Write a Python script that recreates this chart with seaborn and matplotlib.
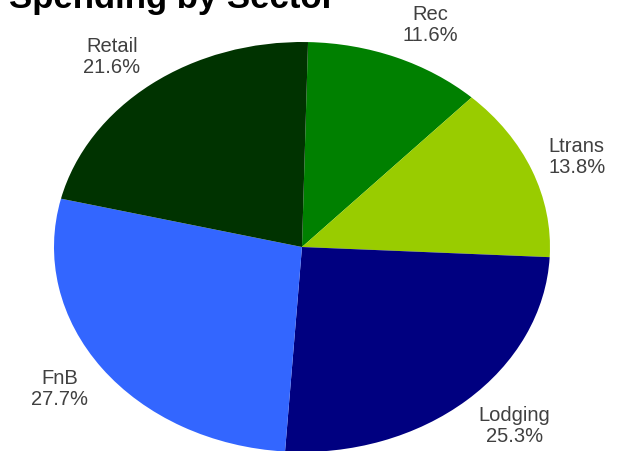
import numpy as np
import seaborn as sns
import matplotlib.pyplot as plt

# data
sectors = ['Rec', 'Ltrans', 'Lodging', 'FnB', 'Retail']
shares = [11.6, 13.8, 25.3, 27.7, 21.6]
colors = ['#008000', '#99cc00', '#000080', '#3366ff', '#003300']
title = 'Spending by Sector'

sns.set_theme(style='white')
plt.rcParams['font.family'] = ['Liberation Sans', 'DejaVu Sans']

fig = plt.figure(figsize=(6.24, 4.51), dpi=100)
# pie is stretched into an ellipse, like the original
ax = fig.add_axes([-0.0327, -0.1386, 1.0333, 1.1818])

start = 88.6
ax.pie(shares, colors=sns.color_palette(colors), startangle=start,
       counterclock=False, wedgeprops=dict(linewidth=0))
ax.set_aspect('auto')
ax.set_xlim(-1.3, 1.3)
ax.set_ylim(-1.3, 1.3)
ax.axis('off')

# labels: name + percent, placed outside each wedge
ends = start - np.cumsum(shares) * 3.6
mids = ends + np.array(shares) * 1.8
for name, val, mid in zip(sectors, shares, mids):
    a = np.deg2rad(mid)
    cx, cy = np.cos(a), np.sin(a)
    ax.text(1.07 * cx, 1.17 * cy, f'{name}\n{val:.1f}%',
            ha='left' if cx > 0 else 'right', va='center',
            multialignment='center', fontsize=14.5, color='#404040',
            linespacing=1.15)

# title sits partly above the top edge, as in the original
fig.text(172 / 624, 1 - 8 / 451, title, ha='center', va='baseline',
         fontsize=25, fontweight='bold', color='black')

fig.savefig('out.png', dpi=100)
